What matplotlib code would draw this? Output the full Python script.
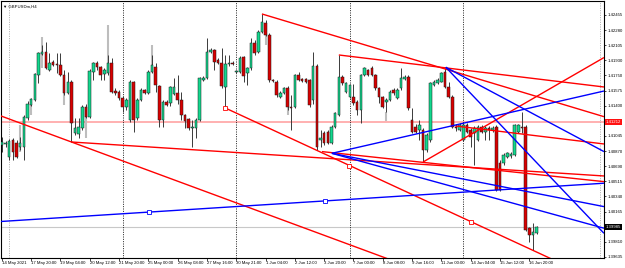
import matplotlib.pyplot as plt
import numpy as np

plt.rcParams['font.family'] = ['Liberation Sans', 'DejaVu Sans']

symbol = "GBPUSDm,H4"

# H4 candles
opens = [1.40940, 1.40952, 1.40800, 1.40998, 1.40964, 1.40917, 1.40917, 1.41255, 1.41406, 1.41465,
         1.41756, 1.42001, 1.42024, 1.41814, 1.41907, 1.41884, 1.41872, 1.41756, 1.41546, 1.41674,
         1.41080, 1.41068, 1.41138, 1.41383, 1.41267, 1.41791, 1.41896, 1.41849, 1.41768, 1.41779,
         1.41896, 1.41569, 1.41558, 1.41488, 1.41383, 1.41232, 1.41674, 1.41255, 1.41465, 1.41581,
         1.41546, 1.41791, 1.41849, 1.41628, 1.41232, 1.41441, 1.41430, 1.41535, 1.41546, 1.41465,
         1.41290, 1.41243, 1.41138, 1.41138, 1.41232, 1.41698, 1.41721, 1.42024, 1.42047, 1.41931,
         1.41896, 1.41616, 1.41884, 1.41896, 1.41791, 1.41791, 1.41966, 1.41779, 1.41837, 1.42129,
         1.42024, 1.42257, 1.42362, 1.42222, 1.41698, 1.41674, 1.41500, 1.41546, 1.41604, 1.41383,
         1.41383, 1.41756, 1.41709, 1.41709, 1.41698, 1.41465, 1.41861, 1.40998, 1.41080, 1.41092,
         1.40964, 1.41150, 1.41290, 1.41733, 1.41558, 1.41500, 1.41500, 1.41441, 1.41348, 1.41756,
         1.41814, 1.41837, 1.41756, 1.41604, 1.41500, 1.41441, 1.41465, 1.41581, 1.41488, 1.41604,
         1.41709, 1.41733, 1.41232, 1.41150, 1.41115, 1.41115, 1.40882, 1.40998, 1.41639, 1.41663,
         1.41674, 1.41791, 1.41616, 1.41500, 1.41150, 1.41115, 1.40998, 1.41173, 1.41115, 1.41080,
         1.40998, 1.41150, 1.41092, 1.41138, 1.41115, 1.41150, 1.40730, 1.40730, 1.40800, 1.40812,
         1.40824, 1.41092, 1.41150, 1.41150, 1.39973, 1.39891, 1.39915]
highs = [1.41033, 1.40987, 1.41010, 1.41022, 1.40998, 1.41033, 1.41290, 1.41453, 1.41488, 1.41779,
         1.42024, 1.42106, 1.42141, 1.42012, 1.41931, 1.42012, 1.42012, 1.41814, 1.41791, 1.41698,
         1.41255, 1.41255, 1.41406, 1.41418, 1.41826, 1.41907, 1.41919, 1.41861, 1.41837, 1.41989,
         1.41954, 1.41604, 1.41581, 1.41511, 1.41488, 1.41698, 1.41686, 1.41488, 1.41604, 1.41593,
         1.41814, 1.41989, 1.41896, 1.41639, 1.41465, 1.41465, 1.41628, 1.41721, 1.41756, 1.41558,
         1.41301, 1.41255, 1.41232, 1.41255, 1.41733, 1.41744, 1.42187, 1.42071, 1.42059, 1.41954,
         1.42071, 1.41989, 1.41989, 1.41919, 1.41814, 1.41977, 1.41977, 1.41849, 1.42187, 1.42164,
         1.42280, 1.42467, 1.42397, 1.42245, 1.41709, 1.41698, 1.41569, 1.41616, 1.41628, 1.41523,
         1.41768, 1.41791, 1.41721, 1.41721, 1.41709, 1.42024, 1.41884, 1.41115, 1.41103, 1.41115,
         1.41173, 1.41325, 1.41989, 1.41756, 1.41674, 1.41651, 1.41651, 1.41465, 1.41768, 1.41849,
         1.41826, 1.41861, 1.41768, 1.41616, 1.41511, 1.41488, 1.41581, 1.41604, 1.41604, 1.41837,
         1.41756, 1.41756, 1.41371, 1.41185, 1.41232, 1.41138, 1.41080, 1.41674, 1.41698, 1.41721,
         1.41791, 1.41837, 1.41674, 1.41523, 1.41185, 1.41197, 1.41197, 1.41197, 1.41138, 1.41162,
         1.41173, 1.41173, 1.41162, 1.41162, 1.41162, 1.41173, 1.40765, 1.40847, 1.40859, 1.40859,
         1.41185, 1.41185, 1.41325, 1.41173, 1.39985, 1.40031, 1.39997]
lows = [1.40859, 1.40917, 1.40765, 1.40765, 1.40789, 1.40882, 1.40765, 1.41232, 1.41395, 1.41453,
        1.41663, 1.41989, 1.41826, 1.41803, 1.41861, 1.41779, 1.41744, 1.41523, 1.41535, 1.40975,
        1.41057, 1.41022, 1.41115, 1.41255, 1.41255, 1.41698, 1.41814, 1.41698, 1.41698, 1.41756,
        1.41546, 1.41523, 1.41465, 1.41325, 1.41348, 1.41208, 1.41092, 1.41232, 1.41453, 1.41535,
        1.41535, 1.41779, 1.41558, 1.41150, 1.41150, 1.41395, 1.41395, 1.41523, 1.41418, 1.41232,
        1.41138, 1.41115, 1.40917, 1.41022, 1.41220, 1.41686, 1.41709, 1.42012, 1.41814, 1.41884,
        1.41604, 1.41371, 1.41861, 1.41872, 1.41779, 1.41779, 1.41674, 1.41639, 1.41814, 1.41989,
        1.42012, 1.42245, 1.42210, 1.41674, 1.41674, 1.41500, 1.41488, 1.41535, 1.41348, 1.41115,
        1.41371, 1.41686, 1.41674, 1.41663, 1.41383, 1.41418, 1.40882, 1.40917, 1.40940, 1.40952,
        1.40952, 1.41138, 1.41278, 1.41639, 1.41546, 1.41488, 1.41406, 1.41290, 1.41197, 1.41744,
        1.41744, 1.41744, 1.41581, 1.41430, 1.41371, 1.41325, 1.41453, 1.41523, 1.41476, 1.41581,
        1.41698, 1.41348, 1.41080, 1.41080, 1.40998, 1.40742, 1.40859, 1.40975, 1.41628, 1.41651,
        1.41674, 1.41604, 1.41488, 1.41138, 1.41103, 1.41103, 1.40987, 1.41080, 1.40917, 1.40707,
        1.40987, 1.41080, 1.40998, 1.40998, 1.41092, 1.40404, 1.40404, 1.40707, 1.40789, 1.40789,
        1.40812, 1.41080, 1.41080, 1.39938, 1.39810, 1.39717, 1.39903]
closes = [1.40975, 1.40964, 1.40987, 1.40859, 1.40800, 1.40964, 1.41267, 1.41418, 1.41476, 1.41768,
          1.42012, 1.42024, 1.41837, 1.41896, 1.41872, 1.41872, 1.41756, 1.41546, 1.41674, 1.41197,
          1.41138, 1.41150, 1.41383, 1.41267, 1.41803, 1.41896, 1.41849, 1.41756, 1.41814, 1.41896,
          1.41558, 1.41546, 1.41488, 1.41383, 1.41465, 1.41674, 1.41232, 1.41465, 1.41581, 1.41546,
          1.41791, 1.41872, 1.41639, 1.41232, 1.41441, 1.41406, 1.41616, 1.41616, 1.41465, 1.41290,
          1.41220, 1.41138, 1.41150, 1.41232, 1.41721, 1.41721, 1.42024, 1.42047, 1.41907, 1.41896,
          1.41628, 1.41884, 1.41896, 1.41884, 1.41803, 1.41954, 1.41744, 1.41837, 1.42129, 1.42012,
          1.42257, 1.42374, 1.42222, 1.41698, 1.41686, 1.41523, 1.41546, 1.41604, 1.41383, 1.41371,
          1.41756, 1.41698, 1.41686, 1.41674, 1.41406, 1.41861, 1.40917, 1.41022, 1.40964, 1.40964,
          1.41150, 1.41313, 1.41733, 1.41663, 1.41663, 1.41639, 1.41430, 1.41348, 1.41756, 1.41837,
          1.41756, 1.41756, 1.41604, 1.41500, 1.41383, 1.41465, 1.41558, 1.41546, 1.41581, 1.41721,
          1.41733, 1.41371, 1.41092, 1.41092, 1.41173, 1.40882, 1.41057, 1.41663, 1.41674, 1.41698,
          1.41779, 1.41616, 1.41500, 1.41150, 1.41138, 1.41173, 1.41173, 1.41092, 1.41033, 1.41138,
          1.41150, 1.41092, 1.41138, 1.41115, 1.41138, 1.40416, 1.40416, 1.40824, 1.40847, 1.40835,
          1.41173, 1.41173, 1.41138, 1.39950, 1.39891, 1.39926, 1.39985]

# faint grey shadow bars seen behind some candles: (bar, top, bottom)
ghost_bars = [(5, 1.41173, 1.40862), (8, 1.41406, 1.41290), (11, 1.42202, 1.41834),
              (17, 1.41639, 1.41406), (23, 1.41267, 1.41022), (29, 1.42339, 1.41779),
              (41, 1.42106, 1.41872), (72, 1.42222, 1.42106), (78, 1.41383, 1.41290),
              (105, 1.41325, 1.41220)]

time_labels = ['14 May 2021', '17 May 20:00', '19 May 04:00', '20 May 12:00', '21 May 20:00',
               '25 May 00:00', '26 May 08:00', '27 May 16:00', '30 May 21:00', '1 Jun 04:00',
               '2 Jun 12:00', '3 Jun 20:00', '7 Jun 00:00', '8 Jun 08:00', '9 Jun 16:00',
               '11 Jun 00:00', '14 Jun 04:00', '15 Jun 12:00', '16 Jun 20:00']
price_ticks = [1.42455, 1.42280, 1.42105, 1.41930, 1.41750, 1.41575, 1.41400, 1.41045,
               1.40870, 1.40690, 1.40515, 1.40340, 1.40165, 1.39810, 1.39635]
week_starts = [33, 64, 95, 126]
hline_price = 1.41212
bid = 1.39985

# trend lines: (bar1, price1, bar2, price2, colour, extend both ways)
trendlines = [
    (19, 1.40975, 98, 1.39730, 'red', True),
    (71, 1.42467, 164.4, 1.41270, 'red', False),
    (19, 1.40975, 164.4, 1.40579, 'red', False),
    (61, 1.41371, 128.1, 1.40046, 'red', False),
    (115, 1.40742, 164.4, 1.41959, 'red', False),
    (92, 1.41989, 164.4, 1.41616, 'red', False),
    (123.8, 1.41162, 164.4, 1.40952, 'red', False),
    (87.4, 1.40863, 164.4, 1.40513, 'red', False),
    (90.1, 1.40843, 164.4, 1.41569, 'blue', False),
    (121.2, 1.41846, 164.4, 1.40863, 'blue', False),
    (121.2, 1.41846, 164.4, 1.39911, 'blue', False),
    (40.1, 1.40158, 88.1, 1.40288, 'blue', True),
    (90.1, 1.40843, 164.4, 1.40222, 'blue', False),
    (90.1, 1.40843, 164.4, 1.39970, 'blue', False),
]
anchor_marks = [(61, 1.41371, 'red'), (94.7, 1.40699, 'red'), (128.1, 1.40046, 'red'),
                (40.1, 1.40158, 'blue'), (88.1, 1.40288, 'blue')]

fig = plt.figure(figsize=(6.25, 2.68), dpi=100)
ax = fig.add_axes([1.5 / 625, 10.5 / 268, 602.5 / 625, 256.5 / 268])
x0, x1 = -0.1, 164.4
y0, y1 = 1.39629, 1.42618
ax.set_xlim(x0, x1)
ax.set_ylim(y0, y1)

# background lines
ax.axhline(hline_price, color='#ffb0b0', lw=1.4, zorder=1)
ax.axhline(bid, color='#c8c8c8', lw=0.8, zorder=1)
for w in week_starts:
    ax.axvline(w, color='black', lw=0.6, ls=(0, (1.2, 1.6)), zorder=1)
ax.axvline(2, color='#a0a0a0', lw=0.6, ls=(0, (1.2, 1.6)), zorder=1)
ax.axvline(163.3, color='#a0a0a0', lw=0.6, ls=(0, (1.2, 1.6)), zorder=1)

for b, top, bot in ghost_bars:
    ax.vlines(b, bot, top, color='#bdbdbd', lw=1.5, zorder=1.5)

# candles
o = np.array(opens)
h = np.array(highs)
l = np.array(lows)
c = np.array(closes)
idx = np.arange(len(o))
up = c >= o
ax.vlines(idx, l, h, color='#3a3a3a', lw=0.7, zorder=2)
ax.bar(idx[up], (c - o)[up], bottom=o[up], width=0.7, color='#12d88e',
       edgecolor='#1a1a1a', linewidth=0.35, zorder=3)
ax.bar(idx[~up], (o - c)[~up], bottom=c[~up], width=0.7, color='#d80000',
       edgecolor='#1a1a1a', linewidth=0.35, zorder=3)

# trend lines
for b1, p1, b2, p2, col, both in trendlines:
    slope = (p2 - p1) / (b2 - b1)
    xs = [x0 - 1, x1] if both else [b1, x1]
    ys = [p1 + slope * (xx - b1) for xx in xs]
    ax.plot(xs, ys, color=col, lw=1.0, zorder=4, solid_capstyle='butt')
for b, p, col in anchor_marks:
    ax.plot(b, p, marker='s', ms=2.2, mfc='white', mec=col, mew=0.6, zorder=5)

# axes styling
for s in ax.spines.values():
    s.set_color('black')
    s.set_linewidth(0.8)
ax.yaxis.tick_right()
ax.set_yticks(price_ticks)
ax.set_yticklabels([f'{p:.5f}' for p in price_ticks])
ax.tick_params(axis='y', length=1.5, width=0.5, pad=1.2, labelsize=3.1, colors='black')
ax.set_xticks(np.arange(len(time_labels)) * 8)
ax.set_xticklabels(time_labels)
ax.tick_params(axis='x', length=2, width=0.5, pad=0.8, labelsize=3.1, colors='black')
for t in ax.get_xticklabels():
    t.set_ha('left')

ytr = ax.get_yaxis_transform()
ax.text(1.003, hline_price, f'{hline_price:.5f}', transform=ytr, ha='left', va='center',
        fontsize=3.1, color='white', clip_on=False,
        bbox=dict(boxstyle='square,pad=0.2', fc='#ff1010', ec='none'))
ax.text(1.003, bid, f'{bid:.5f}', transform=ytr, ha='left', va='center',
        fontsize=3.1, color='white', clip_on=False,
        bbox=dict(boxstyle='square,pad=0.2', fc='black', ec='none'))
ax.text(0.002, 0.985, '\u25bc ' + symbol, transform=ax.transAxes, ha='left', va='top',
        fontsize=3.1, color='black')

fig.savefig('out.png', dpi=100)
